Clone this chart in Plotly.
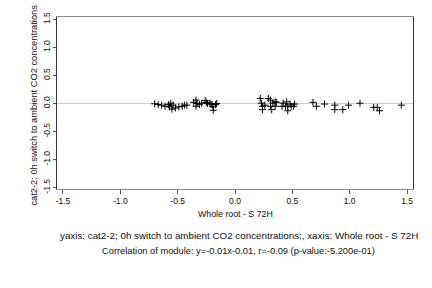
import plotly.graph_objects as go

x_vals = [-0.70, -0.67, -0.64, -0.61, -0.58, -0.56, -0.57, -0.55, -0.54, -0.52,
          -0.49, -0.46, -0.44, -0.42, -0.36, -0.34, -0.33, -0.34, -0.31, -0.29,
          -0.26, -0.25, -0.24, -0.22, -0.21, -0.20, -0.19, -0.19, -0.17, -0.16,
          0.22, 0.23, 0.24, 0.24, 0.26, 0.29, 0.31, 0.32, 0.31, 0.33,
          0.35, 0.36, 0.35, 0.41, 0.42, 0.44, 0.45, 0.46, 0.46, 0.48,
          0.49, 0.51, 0.52, 0.68, 0.71, 0.78, 0.87, 0.87, 0.94, 0.99,
          1.09, 1.21, 1.24, 1.26, 1.45]
y_vals = [-0.005, -0.02, -0.03, -0.05, -0.02, 0.005, -0.06, -0.10, -0.03, -0.08,
          -0.06, -0.05, -0.03, -0.03, 0.02, 0.06, 0.00, -0.05, -0.02, 0.005,
          0.05, 0.02, 0.00, 0.005, -0.01, -0.02, -0.06, -0.12, -0.02, 0.00,
          0.09, 0.005, -0.05, -0.11, -0.03, 0.09, 0.06, -0.11, -0.05, 0.005,
          0.03, 0.02, -0.05, -0.05, 0.005, -0.05, 0.03, -0.05, -0.13, -0.01,
          -0.05, -0.05, -0.01, 0.02, -0.05, -0.01, -0.11, -0.03, -0.11, -0.03,
          0.005, -0.07, -0.07, -0.13, -0.03]

tick_vals = [-1.5, -1.0, -0.5, 0.0, 0.5, 1.0, 1.5]
tick_text = ["-1.5", "-1.0", "-0.5", "0.0", "0.5", "1.0", "1.5"]

y_title = "cat2-2: 0h switch to ambient CO2 concentrations"
x_title = "Whole root - S 72H"
line1 = "yaxis: cat2-2; 0h switch to ambient CO2 concentrations;, xaxis: Whole root - S 72H"
line2 = "Correlation of module: y=-0.01x-0.01, r=-0.09 (p-value:-5.200e-01)"

font_family = "Liberation Sans, Arial, sans-serif"

fig = go.Figure()
fig.add_trace(go.Scatter(
    x=x_vals, y=y_vals, mode="markers",
    marker=dict(symbol="cross-thin", size=5, line=dict(width=1, color="black"), color="black"),
    showlegend=False, hoverinfo="skip"))

fig.update_layout(
    width=432, height=288,
    margin=dict(l=57, r=19, t=12, b=99),
    paper_bgcolor="white", plot_bgcolor="white",
    font=dict(family=font_family, size=8, color="#111111"),
    xaxis=dict(range=[-1.552, 1.552], tickvals=tick_vals, ticktext=tick_text,
               showgrid=False, zeroline=False, showline=True, mirror=True,
               linecolor="#8a8a8a", linewidth=1, ticks="outside", ticklen=4,
               tickcolor="#555", tickfont=dict(size=8.5)),
    yaxis=dict(range=[-1.525, 1.542], tickvals=tick_vals, ticktext=tick_text,
               showgrid=False, zeroline=True, zerolinecolor="#cccccc", zerolinewidth=1,
               showline=True, mirror=True, linecolor="#333333", linewidth=1,
               ticks="outside", ticklen=3, tickcolor="#555", tickangle=-90,
               tickfont=dict(size=8.5)),
    annotations=[
        dict(text=y_title, xref="paper", yref="paper", x=-0.065, y=0.49,
             xanchor="center", yanchor="middle", textangle=-90, showarrow=False,
             font=dict(size=9.3)),
        dict(text=x_title, xref="paper", yref="paper", x=0.5, y=-0.147,
             xanchor="center", yanchor="middle", showarrow=False, font=dict(size=8.8)),
        dict(text=line1, xref="paper", yref="paper", x=0.51, y=-0.27,
             xanchor="center", yanchor="middle", showarrow=False, font=dict(size=9.8)),
        dict(text=line2, xref="paper", yref="paper", x=0.51, y=-0.36,
             xanchor="center", yanchor="middle", showarrow=False, font=dict(size=9.3)),
    ],
)

fig.write_html("out.html")
